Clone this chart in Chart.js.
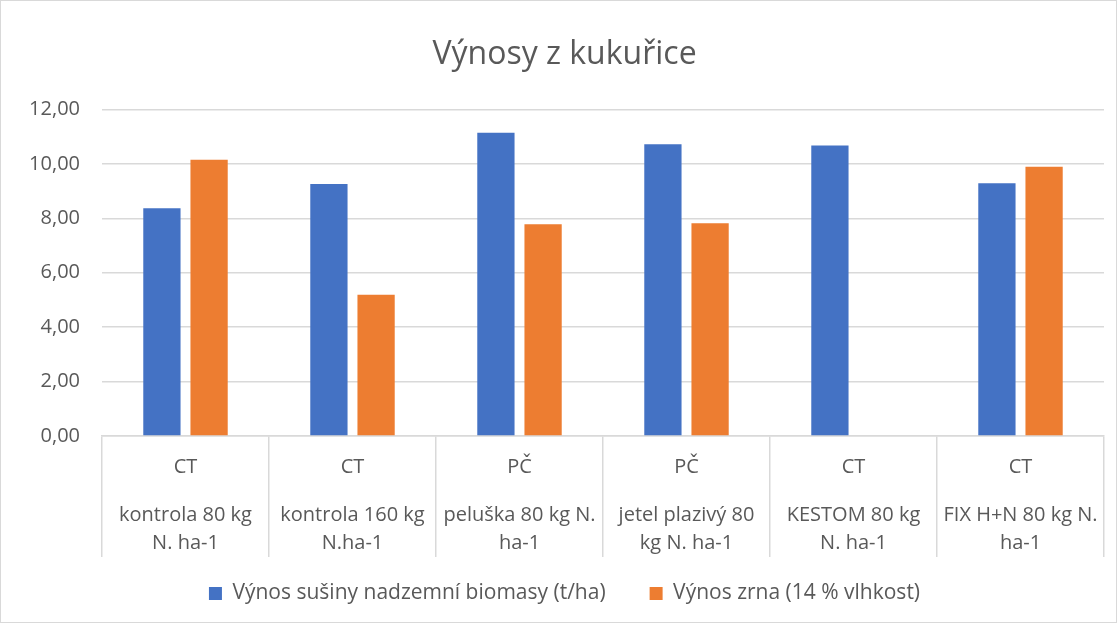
<!DOCTYPE html>
<html>
<head>
<meta charset="utf-8">
<script src="https://cdn.jsdelivr.net/npm/chart.js@4"></script>
<style>
  html, body { margin: 0; padding: 0; background: #fff; }
  #obal { width: 1117px; height: 623px; box-sizing: border-box; border: 1px solid #d9d9d9; position: relative; }
</style>
</head>
<body>
<div id="obal"><canvas id="graf"></canvas></div>
<script>
// data vycteny z obrazku
const skupiny = ['CT', 'CT', 'PČ', 'PČ', 'CT', 'CT'];
const varianty = [
  ['kontrola 80 kg', 'N. ha-1'],
  ['kontrola 160 kg', 'N.ha-1'],
  ['peluška 80 kg N.', 'ha-1'],
  ['jetel plazivý 80', 'kg N. ha-1'],
  ['KESTOM 80 kg', 'N. ha-1'],
  ['FIX H+N 80 kg N.', 'ha-1']
];
const biomasa = [8.37, 9.26, 11.14, 10.72, 10.67, 9.29];
const zrno = [10.15, 5.19, 7.78, 7.82, null, 9.89];
const yTicky = [0, 2, 4, 6, 8, 10, 12];

const sedaText = '#595959';
const pismo = '"Open Sans", sans-serif';

// popisky kategorii pod osou x (dve urovne)
const popiskyOsy = {
  id: 'popiskyOsy',
  afterDraw(chart) {
    const ctx = chart.ctx;
    const sx = chart.scales.x;
    const dole = sx.top;
    ctx.save();
    ctx.fillStyle = sedaText;
    ctx.textAlign = 'center';
    ctx.textBaseline = 'middle';
    ctx.font = '20px ' + pismo;
    skupiny.forEach(function (s, i) {
      const x = sx.getPixelForValue(i);
      ctx.fillText(s, x, dole + 31);
      ctx.fillText(varianty[i][0], x, dole + 79);
      ctx.fillText(varianty[i][1], x, dole + 107);
    });
    ctx.restore();
  }
};

new Chart(document.getElementById('graf'), {
  type: 'bar',
  data: {
    labels: skupiny.map(function (s, i) { return s + ' ' + varianty[i].join(' '); }),
    datasets: [
      {
        label: 'Výnos sušiny nadzemní biomasy (t/ha)',
        data: biomasa,
        backgroundColor: '#4472C4',
        barPercentage: 0.79,
        categoryPercentage: 0.565
      },
      {
        label: 'Výnos zrna (14 % vlhkost)',
        data: zrno,
        backgroundColor: '#ED7D31',
        barPercentage: 0.79,
        categoryPercentage: 0.565
      }
    ]
  },
  options: {
    responsive: true,
    maintainAspectRatio: false,
    animation: false,
    layout: { padding: { left: 24, right: 12, top: 16, bottom: 8 } },
    plugins: {
      title: {
        display: true,
        text: 'Výnosy z kukuřice',
        color: sedaText,
        font: { size: 32, family: pismo, weight: 'normal' },
        padding: { top: 19, bottom: 35 }
      },
      legend: {
        position: 'bottom',
        labels: {
          color: sedaText,
          font: { size: 21, family: pismo },
          boxWidth: 13,
          boxHeight: 13,
          padding: 44
        }
      },
      tooltip: { enabled: false }
    },
    scales: {
      x: {
        grid: { offset: true, drawOnChartArea: false, drawTicks: true, tickLength: 121, color: '#d9d9d9', lineWidth: 1.5 },
        border: { color: '#d9d9d9', width: 1.5 },
        ticks: { display: false },
        // legenda zasahuje do prostoru popisku, carky osy jdou az pod popisky
        afterFit: function (s) { s.height = 103; }
      },
      y: {
        min: 0,
        max: 12,
        afterBuildTicks: function (s) { s.ticks = yTicky.map(function (v) { return { value: v }; }); },
        afterFit: function (s) { s.width = 77; },
        grid: { color: '#d9d9d9', lineWidth: 1.5, drawTicks: false },
        border: { display: false },
        ticks: {
          color: sedaText,
          font: { size: 20, family: pismo },
          padding: 22,
          callback: function (v) { return v.toFixed(2).replace('.', ','); }
        }
      }
    }
  },
  plugins: [popiskyOsy]
});
</script>
</body>
</html>
